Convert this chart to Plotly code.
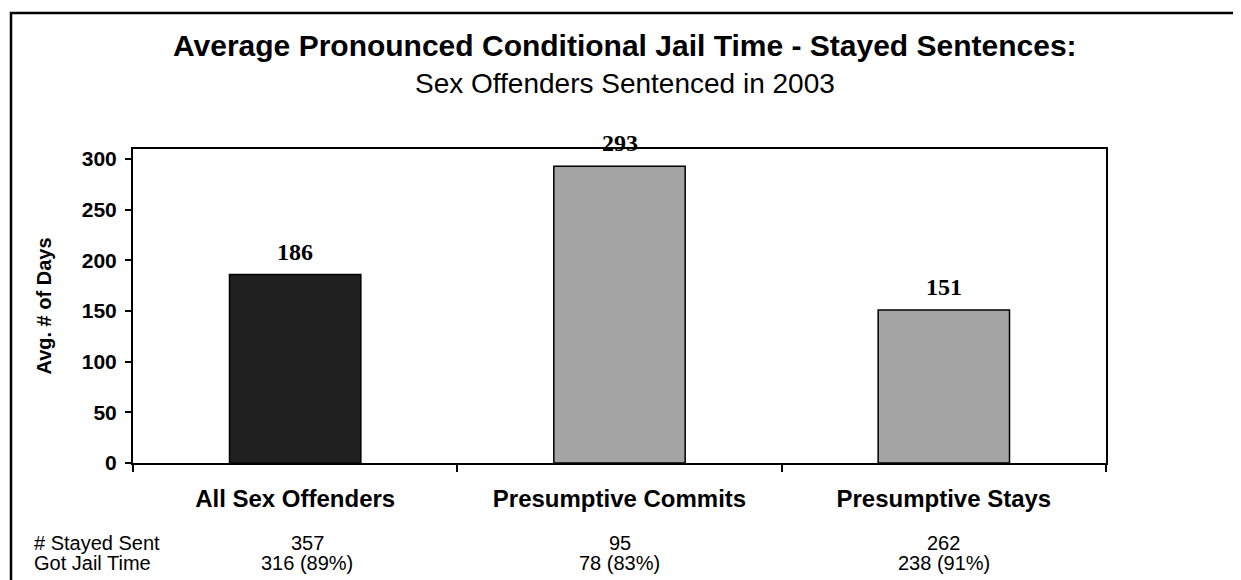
import plotly.graph_objects as go

categories = ["All Sex Offenders", "Presumptive Commits", "Presumptive Stays"]
avg_days = [186, 293, 151]
stayed_sent = ["357", "95", "262"]
got_jail = ["316 (89%)", "78 (83%)", "238 (91%)"]
bar_colors = ["#1f1f1f", "#a4a4a4", "#a4a4a4"]
y_ticks = [0, 50, 100, 150, 200, 250, 300]

OFF = 8  # default page margin of the body
W, H = 1241 - OFF, 580 - OFF
L, R, T, B = 133 - OFF, 1106 - OFF, 149 - OFF, 463 - OFF
pw, ph = R - L, B - T

def px_x(px):
    return (px - OFF - L) / pw

def px_y(py):
    return (B - (py - OFF)) / ph

SANS = "Liberation Sans, Arial, sans-serif"
SERIF = "Liberation Serif, Times New Roman, serif"

fig = go.Figure()
fig.add_trace(go.Bar(
    x=categories, y=avg_days,
    marker=dict(color=bar_colors, line=dict(color="black", width=1.5)),
    width=0.405, hoverinfo="skip", cliponaxis=False,
))

ann = []
for c, v in zip(categories, avg_days):
    ann.append(dict(x=c, y=v, xref="x", yref="y", text=f"<b>{v}</b>",
                    showarrow=False, yanchor="bottom", yshift=8,
                    font=dict(family=SERIF, size=24, color="black")))

row_font = dict(family=SANS, size=20, color="black")
ann.append(dict(x=px_x(32), y=px_y(543), xref="paper", yref="paper", text="# Stayed Sent",
                showarrow=False, xanchor="left", yanchor="middle", font=row_font))
ann.append(dict(x=px_x(32), y=px_y(563), xref="paper", yref="paper", text="Got Jail Time",
                showarrow=False, xanchor="left", yanchor="middle", font=row_font))
col_shift = [12, 0, 0]
for c, s, g, dx in zip(categories, stayed_sent, got_jail, col_shift):
    ann.append(dict(x=c, y=px_y(543), xref="x", yref="paper", text=s, showarrow=False,
                    yanchor="middle", xshift=dx, font=row_font))
    ann.append(dict(x=c, y=px_y(563), xref="x", yref="paper", text=g,
                    showarrow=False, yanchor="middle", xshift=dx, font=row_font))

ann.append(dict(x=px_x(625), y=px_y(46), xref="paper", yref="paper",
                text="<b>Average Pronounced Conditional Jail Time - Stayed Sentences:</b>",
                showarrow=False, yanchor="middle",
                font=dict(family=SANS, size=30, color="black")))
ann.append(dict(x=px_x(625), y=px_y(83), xref="paper", yref="paper",
                text="Sex Offenders Sentenced in 2003",
                showarrow=False, yanchor="middle",
                font=dict(family=SANS, size=28, color="black")))

shapes = [dict(type="path", xref="paper", yref="paper",
               path=f"M {px_x(11)} {px_y(600)} L {px_x(11)} {px_y(13)} L {px_x(1236)} {px_y(13)} L {px_x(1236)} {px_y(600)}",
               line=dict(color="black", width=2.5))]

fig.update_layout(
    width=W, height=H,
    margin=dict(l=L, r=W - R, t=T, b=H - B, pad=0),
    paper_bgcolor="white", plot_bgcolor="white",
    showlegend=False,
    annotations=ann, shapes=shapes,
    font=dict(family=SANS, color="black"),
    xaxis=dict(type="category", tickson="boundaries", ticks="outside", ticklen=7,
               tickcolor="black", tickwidth=2, showline=True, linecolor="black",
               linewidth=2, mirror=True, showgrid=False,
               tickfont=dict(size=24, family=SANS, weight="bold"),
               ticklabelstandoff=13),
    yaxis=dict(range=[0, 310], tickvals=y_ticks, ticks="outside", ticklen=6,
               tickcolor="black", tickwidth=2, showline=True, linecolor="black",
               linewidth=2, mirror=True, showgrid=False, zeroline=False,
               tickfont=dict(size=21, family=SANS, weight="bold"),
               ticklabelstandoff=4,
               title=dict(text="Avg. # of Days", standoff=25,
                          font=dict(size=20, family=SANS, weight="bold"))),
)

fig.write_html("out.html")
